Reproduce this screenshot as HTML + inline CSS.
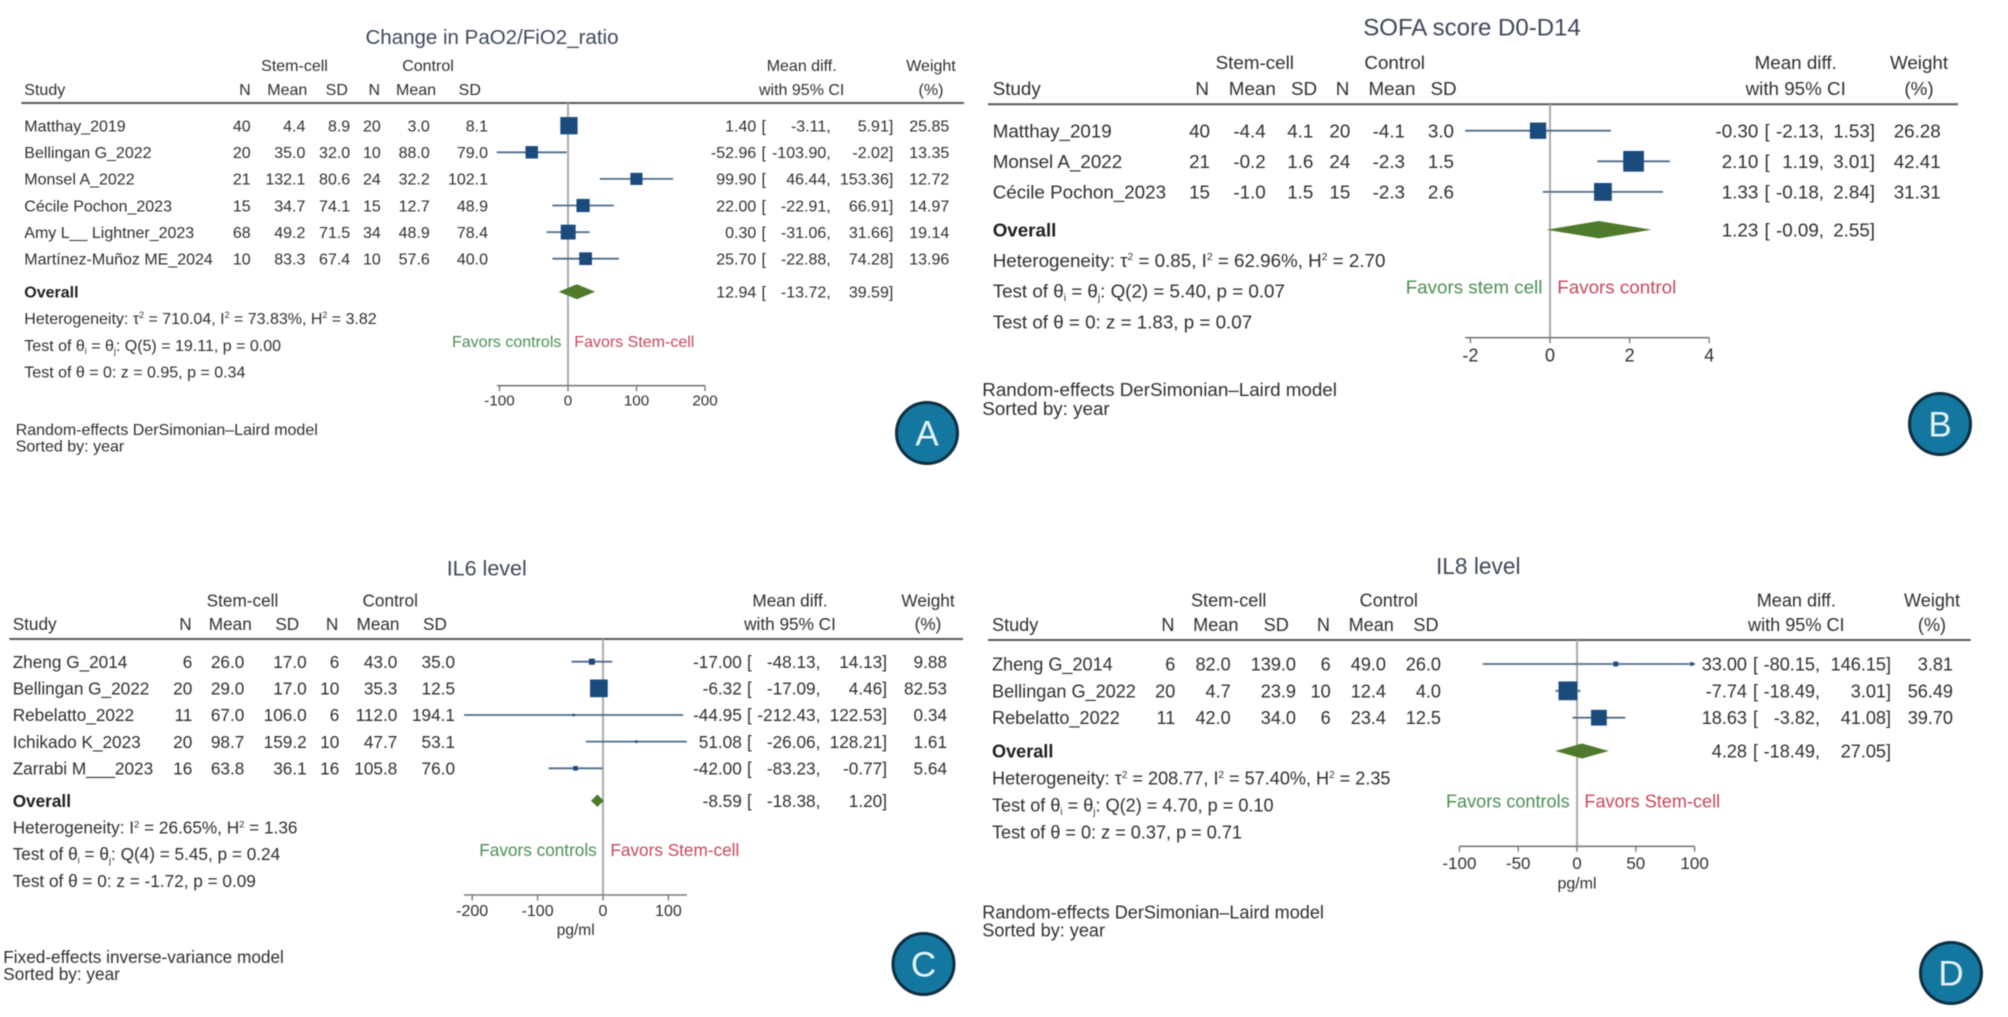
<!DOCTYPE html>
<html lang="en">
<head>
<meta charset="utf-8">
<title>Forest plots: stem-cell therapy meta-analyses</title>
<style>
html,body{margin:0;padding:0;background:#fff;}
#figure{display:block;width:2008px;height:1017px;background:#fff;font-family:"Liberation Sans",sans-serif;filter:blur(0.6px);}
text{font-family:"Liberation Sans",sans-serif;fill:#2f2f2f;}
</style>
</head>
<body>
<svg id="figure" xmlns="http://www.w3.org/2000/svg" width="2008" height="1017" viewBox="0 0 2008 1017"></svg>
<script>
/* ---------- Panel A data ---------- */
const aStudies = ["Matthay_2019","Bellingan G_2022","Monsel A_2022","Cécile Pochon_2023","Amy L__ Lightner_2023","Martínez-Muñoz ME_2024"];
const aN1 = ["40","20","21","15","68","10"];
const aMean1 = ["4.4","35.0","132.1","34.7","49.2","83.3"];
const aSd1 = ["8.9","32.0","80.6","74.1","71.5","67.4"];
const aN2 = ["20","10","24","15","34","10"];
const aMean2 = ["3.0","88.0","32.2","12.7","48.9","57.6"];
const aSd2 = ["8.1","79.0","102.1","48.9","78.4","40.0"];
const aEffect = [1.40,-52.96,99.90,22.00,0.30,25.70];
const aLower = [-3.11,-103.90,46.44,-22.91,-31.06,-22.88];
const aUpper = [5.91,-2.02,153.36,66.91,31.66,74.28];
const aWeight = [25.85,13.35,12.72,14.97,19.14,13.96];
const aOverall = [12.94,-13.72,39.59];
const aTicks = [-100,0,100,200];
const aDomain = [-103.90,200];
const aHet = ["710.04","73.83","3.82"];
const aQ = ["5","19.11","0.00"];
const aZ = ["0.95","0.34"];

/* ---------- Panel B data ---------- */
const bStudies = ["Matthay_2019","Monsel A_2022","Cécile Pochon_2023"];
const bN1 = ["40","21","15"];
const bMean1 = ["-4.4","-0.2","-1.0"];
const bSd1 = ["4.1","1.6","1.5"];
const bN2 = ["20","24","15"];
const bMean2 = ["-4.1","-2.3","-2.3"];
const bSd2 = ["3.0","1.5","2.6"];
const bEffect = [-0.30,2.10,1.33];
const bLower = [-2.13,1.19,-0.18];
const bUpper = [1.53,3.01,2.84];
const bWeight = [26.28,42.41,31.31];
const bOverall = [1.23,-0.09,2.55];
const bTicks = [-2,0,2,4];
const bDomain = [-2.13,4];
const bHet = ["0.85","62.96","2.70"];
const bQ = ["2","5.40","0.07"];
const bZ = ["1.83","0.07"];

/* ---------- Panel C data ---------- */
const cStudies = ["Zheng G_2014","Bellingan G_2022","Rebelatto_2022","Ichikado K_2023","Zarrabi M___2023"];
const cN1 = ["6","20","11","20","16"];
const cMean1 = ["26.0","29.0","67.0","98.7","63.8"];
const cSd1 = ["17.0","17.0","106.0","159.2","36.1"];
const cN2 = ["6","10","6","10","16"];
const cMean2 = ["43.0","35.3","112.0","47.7","105.8"];
const cSd2 = ["35.0","12.5","194.1","53.1","76.0"];
const cEffect = [-17.00,-6.32,-44.95,51.08,-42.00];
const cLower = [-48.13,-17.09,-212.43,-26.06,-83.23];
const cUpper = [14.13,4.46,122.53,128.21,-0.77];
const cWeight = [9.88,82.53,0.34,1.61,5.64];
const cOverall = [-8.59,-18.38,1.20];
const cTicks = [-200,-100,0,100];
const cDomain = [-212.43,128.21];
const cHet = [null,"26.65","1.36"];
const cQ = ["4","5.45","0.24"];
const cZ = ["-1.72","0.09"];

/* ---------- Panel D data ---------- */
const dStudies = ["Zheng G_2014","Bellingan G_2022","Rebelatto_2022"];
const dN1 = ["6","20","11"];
const dMean1 = ["82.0","4.7","42.0"];
const dSd1 = ["139.0","23.9","34.0"];
const dN2 = ["6","10","6"];
const dMean2 = ["49.0","12.4","23.4"];
const dSd2 = ["26.0","4.0","12.5"];
const dEffect = [33.00,-7.74,18.63];
const dLower = [-80.15,-18.49,-3.82];
const dUpper = [146.15,3.01,41.08];
const dWeight = [3.81,56.49,39.70];
const dOverall = [4.28,-18.49,27.05];
const dTicks = [-100,-50,0,50,100];
const dDomain = [-100,100];
const dHet = ["208.77","57.40","2.35"];
const dQ = ["2","4.70","0.10"];
const dZ = ["0.37","0.71"];

const svg = document.getElementById('figure');
const NS = 'http://www.w3.org/2000/svg';
const SQUARE = '#1b4a7c', CI = '#4f6b88', DIAMOND = '#4f7a2b', GREEN = '#4a8f52', RED = '#c8475c';

function make(tag, attrs, parent) {
  const el = document.createElementNS(NS, tag);
  for (const k in attrs) el.setAttribute(k, attrs[k]);
  (parent || svg).appendChild(el);
  return el;
}
function label(parent, str, x, cy, size, anchor, fill, weight) {
  const el = make('text', {x: x, y: cy + size * 0.36, 'font-size': size, 'text-anchor': anchor || 'start'}, parent);
  if (fill) el.style.fill = fill;
  if (weight) el.setAttribute('font-weight', weight);
  el.textContent = str;
  return el;
}
/* segs: [string, 'sup' | 'sub' | null] */
function richLabel(parent, segs, x, cy, size) {
  const el = make('text', {x: x, y: cy + size * 0.36, 'font-size': size}, parent);
  let off = 0;
  segs.forEach(function (s) {
    const t = document.createElementNS(NS, 'tspan');
    let target = 0;
    if (s[1] === 'sup') { target = -size * 0.36; t.setAttribute('font-size', size * 0.55); }
    if (s[1] === 'sub') { target = size * 0.2; t.setAttribute('font-size', size * 0.55); }
    if (target !== off) t.setAttribute('dy', target - off);
    off = target;
    t.textContent = s[0];
    el.appendChild(t);
  });
  return el;
}

function drawPanel(p) {
  const g = make('g', {});
  
  
  const fs = p.fs;
  const X = function (v) { return p.zeroX + v * p.pxPerUnit; };

  const title = label(g, p.title, p.titleX, p.titleY, p.titleSize, 'start', '#3e4859');
  
  

  const stem = label(g, 'Stem-cell', p.hdr.stem, p.hdrY1, fs, 'middle');
  
  
  const ctrl = label(g, 'Control', p.hdr.ctrl, p.hdrY1, fs, 'middle');
  
  
  const md = label(g, 'Mean diff.', p.cols.mdHdr, p.hdrY1, fs, 'middle');
  
  
  const wt = label(g, 'Weight', p.cols.wtHdr, p.hdrY1, fs, 'middle');
  
  
  const st = label(g, 'Study', p.cols.study, p.hdrY2, fs);
  
  
  const hn1 = label(g, 'N', p.hdr.n1, p.hdrY2, fs, 'end');
  
  
  const hm1 = label(g, 'Mean', p.hdr.m1, p.hdrY2, fs, 'middle');
  
  
  const hs1 = label(g, 'SD', p.hdr.s1, p.hdrY2, fs, 'middle');
  
  
  const hn2 = label(g, 'N', p.hdr.n2, p.hdrY2, fs, 'end');
  
  
  const hm2 = label(g, 'Mean', p.hdr.m2, p.hdrY2, fs, 'middle');
  
  
  const hs2 = label(g, 'SD', p.hdr.s2, p.hdrY2, fs, 'middle');
  
  
  const ci95 = label(g, 'with 95% CI', p.cols.mdHdr, p.hdrY2, fs, 'middle');
  
  
  const pct = label(g, '(%)', p.cols.wtHdr, p.hdrY2, fs, 'middle');
  
  

  const rule = make('line', {x1: p.ruleL, x2: p.ruleR, y1: p.ruleY, y2: p.ruleY, stroke: '#5a5a5a', 'stroke-width': 2}, g);
  
  

  const zero = make('line', {x1: X(0), x2: X(0), y1: p.ruleY, y2: p.axisY, stroke: '#ababab', 'stroke-width': 2}, g);
  
  

  /* axis */
  const axis = make('line', {x1: X(p.domain[0]), x2: X(p.domain[1]), y1: p.axisY, y2: p.axisY, stroke: '#7a7a7a', 'stroke-width': 1.6}, g);
  
  
  p.ticks.forEach(function (t) {
    const tick = make('line', {x1: X(t), x2: X(t), y1: p.axisY, y2: p.axisY + 5.5, stroke: '#7a7a7a', 'stroke-width': 1.4}, g);
    
    
    const tl = label(g, String(t), X(t), p.tickY, p.tickSize, 'middle');
    
    
  });
  if (p.unitY) {
    const u = label(g, 'pg/ml', p.unitX, p.unitY, p.unitSize, 'middle');
    
    
  }

  /* rows */
  p.studies.forEach(function (name, i) {
    const y = p.rowY + i * p.rowGap;
    const s = label(g, name, p.cols.study, y, fs);
    
    
    const c1 = label(g, p.n1[i], p.cols.n1, y, fs, 'end');
    
    
    const c2 = label(g, p.mean1[i], p.cols.m1, y, fs, 'end');
    
    
    const c3 = label(g, p.sd1[i], p.cols.s1, y, fs, 'end');
    
    
    const c4 = label(g, p.n2[i], p.cols.n2, y, fs, 'end');
    
    
    const c5 = label(g, p.mean2[i], p.cols.m2, y, fs, 'end');
    
    
    const c6 = label(g, p.sd2[i], p.cols.s2, y, fs, 'end');
    
    

    const lo = Math.max(p.lower[i], p.domain[0]);
    const hi = Math.min(p.upper[i], p.domain[1]);
    const ci = make('line', {x1: X(lo), x2: X(hi), y1: y, y2: y, stroke: CI, 'stroke-width': 1.8}, g);
    
    
    if (p.upper[i] > p.domain[1]) {
      const ax = X(p.domain[1]);
      const arrow = make('polygon', {points: (ax + 1) + ',' + y + ' ' + (ax - 4) + ',' + (y - 2.5) + ' ' + (ax - 4) + ',' + (y + 2.5), fill: SQUARE}, g);
      
      
    }
    const size = Math.max(2.5, p.squareK * Math.sqrt(p.weight[i]));
    const sq = make('rect', {x: X(p.effect[i]) - size / 2, y: y - size / 2, width: size, height: size, fill: SQUARE}, g);
    
    

    const e = label(g, p.effect[i].toFixed(2), p.cols.est, y, fs, 'end');
    
    
    const b = label(g, '[', p.cols.bracket, y, fs);
    
    
    const l = label(g, p.lower[i].toFixed(2) + ',', p.cols.lo, y, fs, 'end');
    
    
    const h = label(g, p.upper[i].toFixed(2) + ']', p.cols.hi, y, fs, 'end');
    
    
    const w = label(g, p.weight[i].toFixed(2), p.cols.wt, y, fs, 'end');
    
    
  });

  /* overall */
  const ov = label(g, 'Overall', p.cols.study, p.overallY, fs, 'start', '#1f1f1f', 'bold');
  
  
  const hh = p.diamondH;
  const pts = [[X(p.overall[1]), p.overallY], [X(p.overall[0]), p.overallY - hh], [X(p.overall[2]), p.overallY], [X(p.overall[0]), p.overallY + hh]]
    .map(function (q) { return q.join(','); }).join(' ');
  const dia = make('polygon', {points: pts, fill: DIAMOND}, g);
  
  
  const oe = label(g, p.overall[0].toFixed(2), p.cols.est, p.overallY, fs, 'end');
  
  
  const ob = label(g, '[', p.cols.bracket, p.overallY, fs);
  
  
  const ol = label(g, p.overall[1].toFixed(2) + ',', p.cols.lo, p.overallY, fs, 'end');
  
  
  const oh = label(g, p.overall[2].toFixed(2) + ']', p.cols.hi, p.overallY, fs, 'end');
  
  

  /* heterogeneity stats */
  const hetSegs = [['Heterogeneity: ', null]];
  if (p.het[0] !== null) {
    hetSegs.push(['τ', null], ['2', 'sup'], [' = ' + p.het[0] + ', ', null]);
  }
  hetSegs.push(['I', null], ['2', 'sup'], [' = ' + p.het[1] + '%, H', null], ['2', 'sup'], [' = ' + p.het[2], null]);
  const t1 = richLabel(g, hetSegs, p.cols.study, p.statY[0], fs);
  
  
  const t2 = richLabel(g, [['Test of θ', null], ['i', 'sub'], [' = θ', null], ['j', 'sub'], [': Q(' + p.q[0] + ') = ' + p.q[1] + ', p = ' + p.q[2], null]], p.cols.study, p.statY[1], fs);
  
  
  const t3 = label(g, 'Test of θ = 0: z = ' + p.z[0] + ', p = ' + p.z[1], p.cols.study, p.statY[2], fs);
  
  

  /* favours */
  const fl = label(g, p.favL, p.favLX, p.favY, fs, 'start', GREEN);
  
  
  const fr = label(g, p.favR, p.favRX, p.favY, fs, 'start', RED);
  
  

  /* footnotes */
  const m = label(g, p.model, p.footX, p.footY[0], fs);
  
  
  const so = label(g, 'Sorted by: year', p.footX, p.footY[1], fs);
  
  

  /* badge */
  const circle = make('circle', {cx: p.badge[0], cy: p.badge[1], r: 30.5, fill: '#14779f', stroke: '#0e2f42', 'stroke-width': 3}, g);
  
  
  const letter = label(g, p.letter, p.badge[0], p.badge[1], 35, 'middle', '#e4f2f8');
  
  
}

drawPanel({
  name: 'panel-a', letter: 'A', title: 'Change in PaO2/FiO2_ratio',
  studies: aStudies, n1: aN1, mean1: aMean1, sd1: aSd1, n2: aN2, mean2: aMean2, sd2: aSd2,
  effect: aEffect, lower: aLower, upper: aUpper, weight: aWeight, overall: aOverall,
  ticks: aTicks, domain: aDomain, het: aHet, q: aQ, z: aZ,
  favL: 'Favors controls', favR: 'Favors Stem-cell',
  model: 'Random-effects DerSimonian–Laird model',
  fs: 16, titleX: 365.5, titleY: 36.5, titleSize: 20.5,
  hdrY1: 65, hdrY2: 89.3, ruleL: 21.4, ruleR: 964, ruleY: 103,
  hdr: {stem: 294.5, ctrl: 428, n1: 250.7, m1: 287.3, s1: 336.8, n2: 380, m2: 416, s2: 469.8},
  cols: {study: 24.3, n1: 250.7, m1: 305.4, s1: 350.2, n2: 380.8, m2: 429.8, s2: 488, est: 756.3, bracket: 761.5, lo: 830.7, hi: 893.3, wt: 949.3, mdHdr: 801.7, wtHdr: 931},
  zeroX: 568, pxPerUnit: 0.685, axisY: 385.7, tickY: 400, tickSize: 15.2,
  rowY: 125.7, rowGap: 26.6, squareK: 3.4, overallY: 291.7, diamondH: 7.5,
  statY: [318, 345, 371.7], favY: 341, favLX: 452, favRX: 574.3,
  footX: 15.7, footY: [429, 445.7], badge: [927, 433]
});

drawPanel({
  name: 'panel-b', letter: 'B', title: 'SOFA score D0-D14',
  studies: bStudies, n1: bN1, mean1: bMean1, sd1: bSd1, n2: bN2, mean2: bMean2, sd2: bSd2,
  effect: bEffect, lower: bLower, upper: bUpper, weight: bWeight, overall: bOverall,
  ticks: bTicks, domain: bDomain, het: bHet, q: bQ, z: bZ,
  favL: 'Favors stem cell', favR: 'Favors control',
  model: 'Random-effects DerSimonian–Laird model',
  fs: 18.8, titleX: 1363.3, titleY: 26.7, titleSize: 24,
  hdrY1: 62.3, hdrY2: 88.3, ruleL: 988, ruleR: 1958, ruleY: 104.3,
  hdr: {stem: 1254.8, ctrl: 1394.7, n1: 1209, m1: 1252.3, s1: 1304, n2: 1349.3, m2: 1392, s2: 1443.5},
  cols: {study: 992.7, n1: 1210, m1: 1265.7, s1: 1313.3, n2: 1350.3, m2: 1405, s2: 1454, est: 1758.3, bracket: 1764.5, lo: 1824, hi: 1875, wt: 1940.7, mdHdr: 1795.7, wtHdr: 1919},
  zeroX: 1550, pxPerUnit: 39.8, axisY: 337.7, tickY: 355, tickSize: 18,
  rowY: 130.7, rowGap: 30.6, squareK: 3.18, overallY: 229.7, diamondH: 8.7,
  statY: [260, 290.7, 321.7], favY: 286.7, favLX: 1405.7, favRX: 1557.3,
  footX: 982.3, footY: [389, 408.3], badge: [1940, 424]
});

drawPanel({
  name: 'panel-c', letter: 'C', title: 'IL6 level',
  studies: cStudies, n1: cN1, mean1: cMean1, sd1: cSd1, n2: cN2, mean2: cMean2, sd2: cSd2,
  effect: cEffect, lower: cLower, upper: cUpper, weight: cWeight, overall: cOverall,
  ticks: cTicks, domain: cDomain, het: cHet, q: cQ, z: cZ,
  favL: 'Favors controls', favR: 'Favors Stem-cell',
  model: 'Fixed-effects inverse-variance model',
  fs: 17.2, titleX: 446.7, titleY: 568, titleSize: 21.5,
  hdrY1: 600.5, hdrY2: 624, ruleL: 9.3, ruleR: 963, ruleY: 639,
  hdr: {stem: 242.5, ctrl: 390.2, n1: 191.7, m1: 230.3, s1: 287.3, n2: 338.3, m2: 378, s2: 435},
  cols: {study: 12.7, n1: 192.3, m1: 244.3, s1: 306.7, n2: 339.3, m2: 397.3, s2: 455, est: 741.8, bracket: 747, lo: 820.4, hi: 887, wt: 947, mdHdr: 790, wtHdr: 928},
  zeroX: 603, pxPerUnit: 0.654, axisY: 895, tickY: 910, tickSize: 16, unitX: 575.7, unitY: 929.3, unitSize: 15.5,
  rowY: 661.7, rowGap: 26.65, squareK: 1.95, overallY: 800.7, diamondH: 6.2,
  statY: [827.3, 854, 880.7], favY: 850, favLX: 479.3, favRX: 610.4,
  footX: 3.3, footY: [956.7, 974], badge: [923.5, 964]
});

drawPanel({
  name: 'panel-d', letter: 'D', title: 'IL8 level',
  studies: dStudies, n1: dN1, mean1: dMean1, sd1: dSd1, n2: dN2, mean2: dMean2, sd2: dSd2,
  effect: dEffect, lower: dLower, upper: dUpper, weight: dWeight, overall: dOverall,
  ticks: dTicks, domain: dDomain, het: dHet, q: dQ, z: dZ,
  favL: 'Favors controls', favR: 'Favors Stem-cell',
  model: 'Random-effects DerSimonian–Laird model',
  fs: 18.1, titleX: 1436, titleY: 566, titleSize: 22.7,
  hdrY1: 600, hdrY2: 624.7, ruleL: 988, ruleR: 1970.8, ruleY: 640,
  hdr: {stem: 1228.7, ctrl: 1388.8, n1: 1174.5, m1: 1215.8, s1: 1276.2, n2: 1330, m2: 1371.2, s2: 1426},
  cols: {study: 992, n1: 1175.3, m1: 1230.7, s1: 1296, n2: 1330.7, m2: 1386, s2: 1441, est: 1747, bracket: 1753, lo: 1820, hi: 1891, wt: 1953, mdHdr: 1796.3, wtHdr: 1932},
  zeroX: 1577, pxPerUnit: 1.176, axisY: 846.3, tickY: 862.7, tickSize: 17, unitX: 1577, unitY: 882.7, unitSize: 16,
  rowY: 664, rowGap: 26.85, squareK: 2.5, overallY: 751, diamondH: 7.5,
  statY: [778, 805, 832], favY: 801, favLX: 1446, favRX: 1584.4,
  footX: 982.3, footY: [912, 930], badge: [1951, 973]
});
</script>
</body>
</html>
